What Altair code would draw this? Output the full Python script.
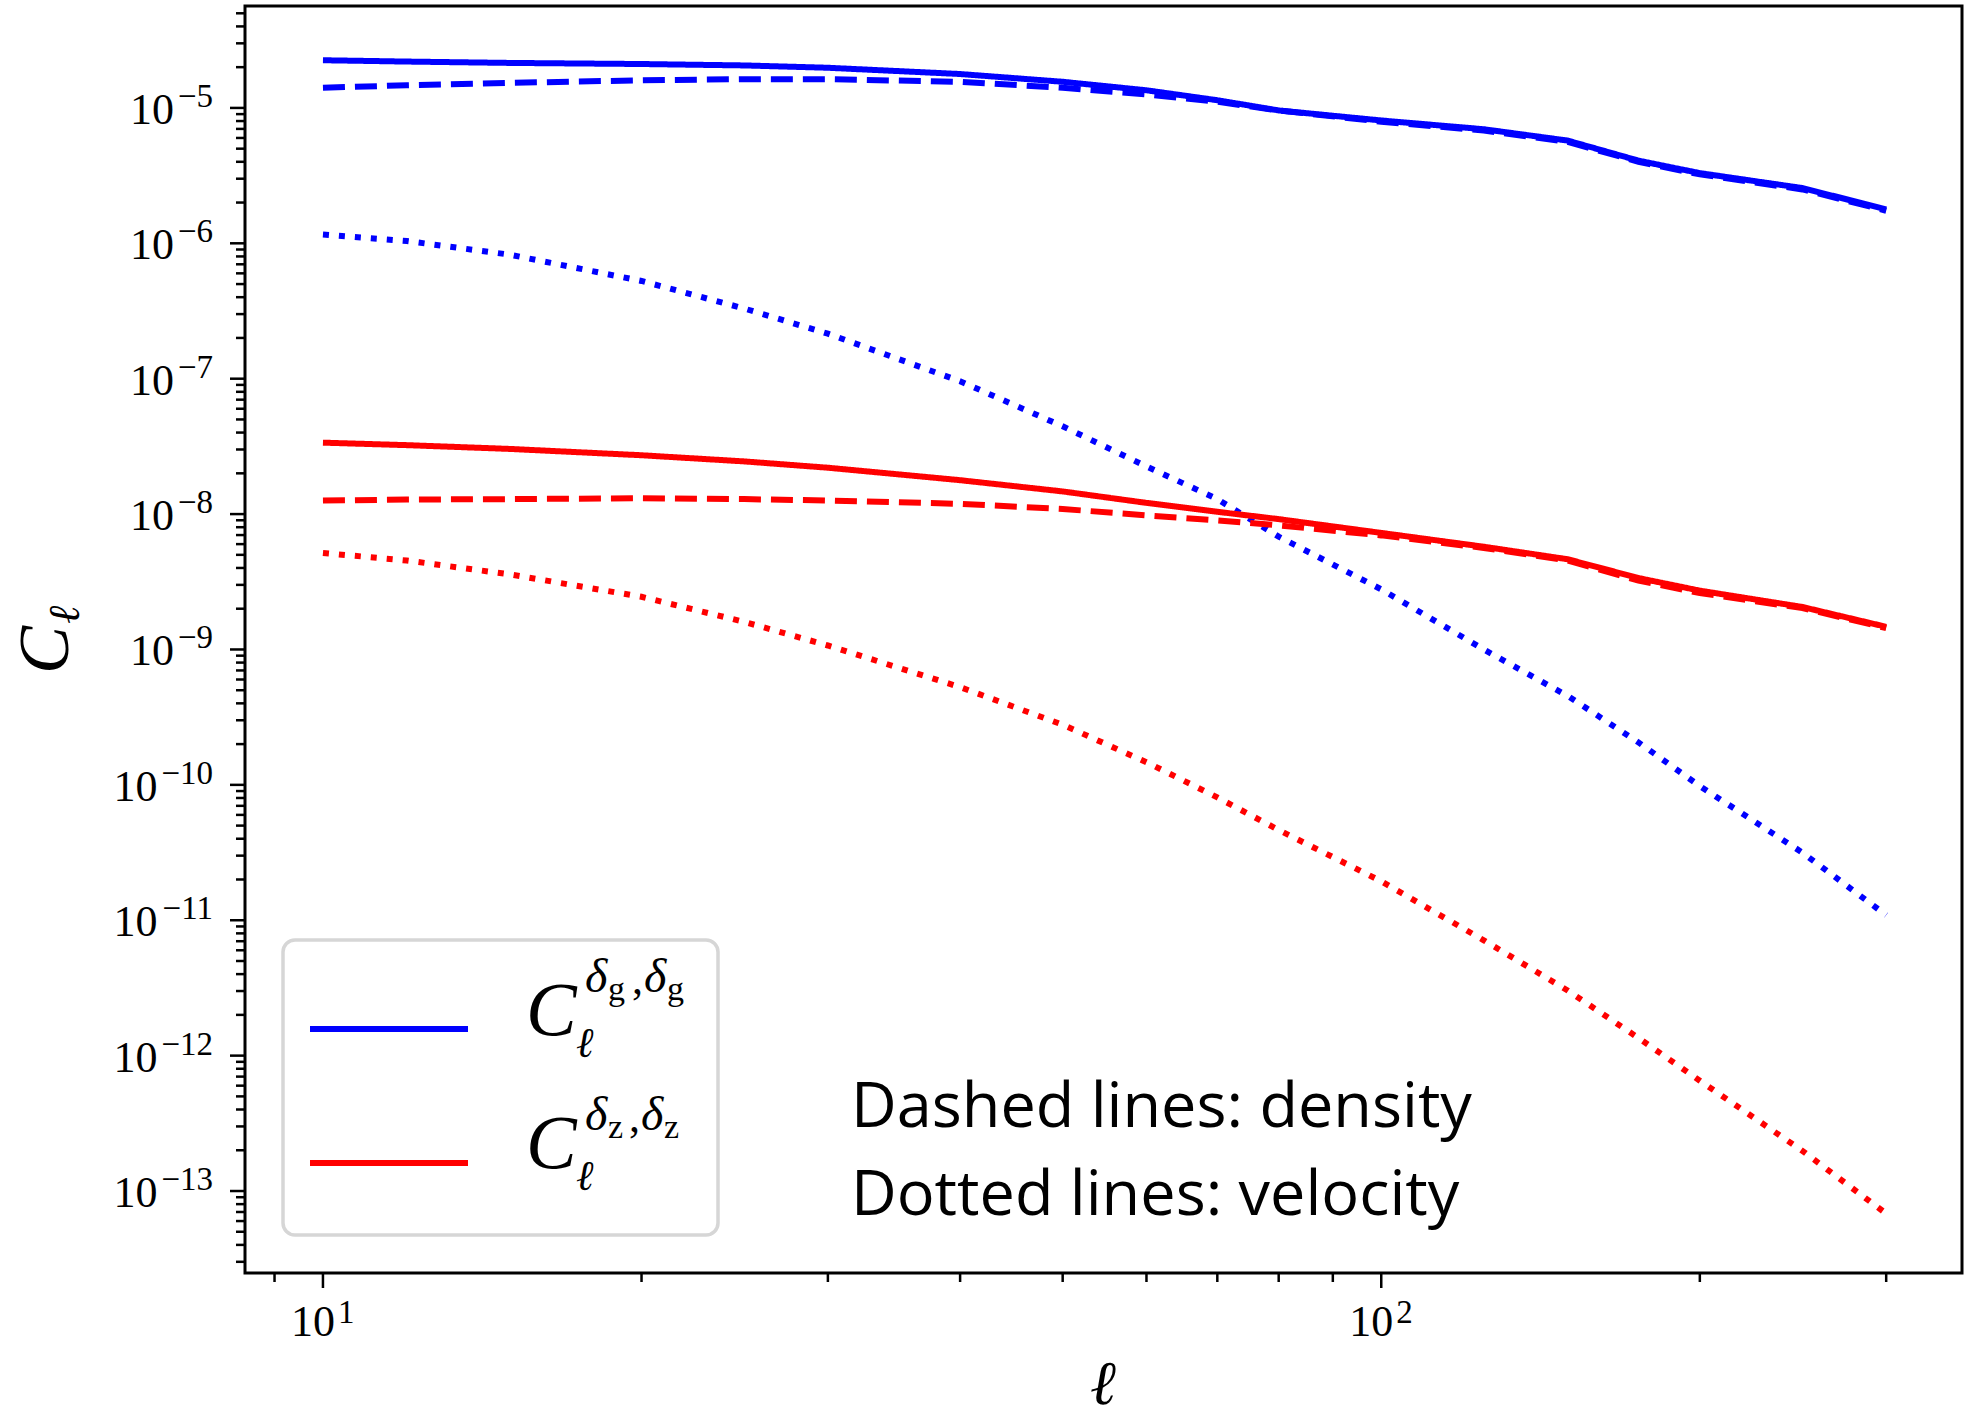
import altair as alt
import pandas as pd

# ---------------- data ----------------
ell = [10, 12, 15, 20, 25, 30, 40, 50, 60, 70, 80, 100, 125, 150, 175, 200, 250, 300]

gg_total = [2.25e-5, 2.20e-5, 2.15e-5, 2.11e-5, 2.06e-5, 1.98e-5, 1.78e-5, 1.56e-5, 1.35e-5,
            1.14e-5, 9.58e-6, 8.08e-6, 6.96e-6, 5.74e-6, 4.08e-6, 3.30e-6, 2.56e-6, 1.78e-6]
gg_density = [1.41e-5, 1.47e-5, 1.53e-5, 1.60e-5, 1.63e-5, 1.63e-5, 1.56e-5, 1.41e-5, 1.26e-5,
              1.11e-5, 9.58e-6, 7.91e-6, 6.81e-6, 5.62e-6, 4.00e-6, 3.23e-6, 2.50e-6, 1.74e-6]
gg_velocity = [1.16e-6, 1.04e-6, 8.25e-7, 5.27e-7, 3.30e-7, 2.15e-7, 9.58e-8, 4.45e-8, 2.25e-8,
               1.29e-8, 6.81e-9, 2.78e-9, 1.00e-9, 4.54e-10, 2.06e-10, 9.79e-11, 3.16e-11, 1.09e-11]

zz_total = [3.37e-8, 3.23e-8, 3.03e-8, 2.72e-8, 2.45e-8, 2.20e-8, 1.78e-8, 1.47e-8, 1.21e-8,
            1.04e-8, 9.18e-9, 7.26e-9, 5.74e-9, 4.64e-9, 3.37e-9, 2.72e-9, 2.06e-9, 1.47e-9]
zz_density = [1.26e-8, 1.28e-8, 1.29e-8, 1.31e-8, 1.29e-8, 1.26e-8, 1.19e-8, 1.09e-8, 9.79e-9,
              8.99e-9, 8.25e-9, 6.96e-9, 5.62e-9, 4.54e-9, 3.23e-9, 2.61e-9, 2.02e-9, 1.44e-9]
zz_velocity = [5.16e-9, 4.54e-9, 3.59e-9, 2.45e-9, 1.60e-9, 1.07e-9, 5.27e-10, 2.78e-10, 1.47e-10,
               8.08e-11, 4.64e-11, 1.94e-11, 7.11e-12, 3.03e-12, 1.35e-12, 6.53e-13, 1.98e-13, 6.81e-14]

y_label_exponents = [-5, -6, -7, -8, -9, -10, -11, -12, -13]
x_label_exponents = [1, 2]
x_minor_ticks = [9, 20, 30, 40, 50, 60, 70, 80, 90, 200, 300]
y_minor_mantissas = [2, 3, 4, 5, 6, 7, 8, 9]

annotation_lines = ["Dashed lines: density", "Dotted lines: velocity"]

# ---------------- layout ----------------
W, H = 1717, 1267
X_DOMAIN = [8.44, 353.8]
Y_DOMAIN = [2.48e-14, 5.66e-5]

rows = []
for tracer, series in [("g", [("total", gg_total), ("density", gg_density), ("velocity", gg_velocity)]),
                       ("z", [("total", zz_total), ("density", zz_density), ("velocity", zz_velocity)])]:
    for kind, vals in series:
        for l, v in zip(ell, vals):
            rows.append({"ell": l, "C": v, "tracer": tracer, "kind": kind})
df = pd.DataFrame(rows)

x_major = [10 ** e for e in x_label_exponents]
y_major = [10.0 ** e for e in y_label_exponents]
y_minor = []
for k in range(-14, -4):
    for m in y_minor_mantissas:
        v = m * 10.0 ** k
        if Y_DOMAIN[0] <= v <= Y_DOMAIN[1]:
            y_minor.append(v)

xs = alt.Scale(type="log", domain=X_DOMAIN, nice=False)
ys = alt.Scale(type="log", domain=Y_DOMAIN, nice=False)

lines = alt.Chart(df).mark_line(strokeWidth=6, clip=True, strokeCap="butt").encode(
    x=alt.X("ell:Q", scale=xs, axis=None),
    y=alt.Y("C:Q", scale=ys, axis=None),
    color=alt.Color("tracer:N", scale=alt.Scale(domain=["g", "z"], range=["#0000ff", "#ff0000"]), legend=None),
    strokeDash=alt.StrokeDash("kind:N", scale=alt.Scale(domain=["total", "density", "velocity"],
                                                          range=[[1, 0], [22, 10], [6, 10]]), legend=None),
)


# tick marks (drawn through the scales)
def xticks(vals, length):
    return alt.Chart(pd.DataFrame({"t": vals})).mark_rule(color="black", strokeWidth=2.5).encode(
        x=alt.X("t:Q", scale=xs, axis=None), y=alt.value(H), y2=alt.value(H + length))


def yticks(vals, length):
    return alt.Chart(pd.DataFrame({"t": vals})).mark_rule(color="black", strokeWidth=2.5).encode(
        y=alt.Y("t:Q", scale=ys, axis=None), x=alt.value(0), x2=alt.value(-length))


ticks = [xticks(x_major, 15), xticks(x_minor_ticks, 9), yticks(y_major, 15), yticks(y_minor, 9)]

SERIF = "Liberation Serif, DejaVu Serif, serif"
SCRIPT = "DejaVu Serif, serif"

# y tick labels 10^{e}
ylab = alt.Chart(pd.DataFrame({"e": y_label_exponents})).transform_calculate(
    v="pow(10, datum.e)",
    ew="18.6 + 16.5*length(toString(-datum.e))",
    bx="-36 - datum.ew",
    etxt="'\u2212' + toString(-datum.e)",
)
ybase = ylab.mark_text(text="10", align="right", baseline="alphabetic", dy=16,
                       font=SERIF, fontSize=44, color="black").encode(
    x=alt.X("bx:Q", scale=None), y=alt.Y("v:Q", scale=ys, axis=None))
yexp = ylab.mark_text(align="right", baseline="alphabetic", dy=-1,
                      font=SERIF, fontSize=33, color="black").encode(
    x=alt.value(-32), y=alt.Y("v:Q", scale=ys, axis=None), text="etxt:N")

# x tick labels
xlab = alt.Chart(pd.DataFrame({"e": x_label_exponents})).transform_calculate(
    v="pow(10, datum.e)", etxt="toString(datum.e)")
xbase = xlab.mark_text(text="10", align="right", baseline="alphabetic", dx=12,
                       font=SERIF, fontSize=44, color="black").encode(
    x=alt.X("v:Q", scale=xs, axis=None), y=alt.value(H + 63))
xexp = xlab.mark_text(align="left", baseline="alphabetic", dx=15,
                      font=SERIF, fontSize=33, color="black").encode(
    x=alt.X("v:Q", scale=xs, axis=None), y=alt.value(H + 50), text="etxt:N")

one = pd.DataFrame({"a": [0]})


def txt(s, x, y, size, font=SERIF, style="normal", align="left", angle=0):
    return alt.Chart(one).mark_text(text=s, align=align, baseline="alphabetic", font=font,
                                    fontSize=size, fontStyle=style, angle=angle, color="black").encode(
        x=alt.value(x), y=alt.value(y))


# axis titles
titles = [
    txt("C", -177, 668, 72, style="italic", angle=270),
    txt("\u2113", -166, 618, 44, font=SCRIPT, style="italic", angle=270),
    txt("\u2113", 858, H + 131, 62, font=SCRIPT, style="italic", align="center"),
]

# legend
legend_box = alt.Chart(one).mark_rect(fill="white", fillOpacity=0.8, stroke="#d6d6d6",
                                      strokeWidth=3.5, cornerRadius=12).encode(
    x=alt.value(38), x2=alt.value(473), y=alt.value(934), y2=alt.value(1229))
legend_blue = alt.Chart(one).mark_rule(color="#0000ff", strokeWidth=6).encode(
    x=alt.value(65), x2=alt.value(223), y=alt.value(1023))
legend_red = alt.Chart(one).mark_rule(color="#ff0000", strokeWidth=6).encode(
    x=alt.value(65), x2=alt.value(223), y=alt.value(1157))

legend_text = [
    txt("C", 281, 1029, 76, style="italic"),
    txt("\u2113", 331, 1051, 42, font=SCRIPT, style="italic"),
    txt("\u03b4", 340, 986, 48, style="italic"),
    txt("g", 363, 994, 34),
    txt(",", 387, 988, 44),
    txt("\u03b4", 399, 986, 48, style="italic"),
    txt("g", 422, 994, 34),
    txt("C", 281, 1162, 76, style="italic"),
    txt("\u2113", 331, 1184, 42, font=SCRIPT, style="italic"),
    txt("\u03b4", 340, 1124, 48, style="italic"),
    txt("z", 363, 1132, 34),
    txt(",", 384, 1126, 44),
    txt("\u03b4", 396, 1124, 48, style="italic"),
    txt("z", 419, 1132, 34),
]

notes = [
    txt(annotation_lines[0], 606, 1121, 63, font="Open Sans"),
    txt(annotation_lines[1], 606, 1209, 63, font="Open Sans"),
]

chart = alt.layer(
    lines, *ticks, ybase, yexp, xbase, xexp, *titles,
    legend_box, legend_blue, legend_red, *legend_text, *notes,
).properties(
    width=W, height=H,
    padding={"left": 245, "top": 6, "right": 4, "bottom": 141},
    autosize=alt.AutoSizeParams(type="none"),
    background="white",
).configure_view(stroke="black", strokeWidth=3)

chart.save("out.html", embed_options={"renderer": "svg", "actions": False})
